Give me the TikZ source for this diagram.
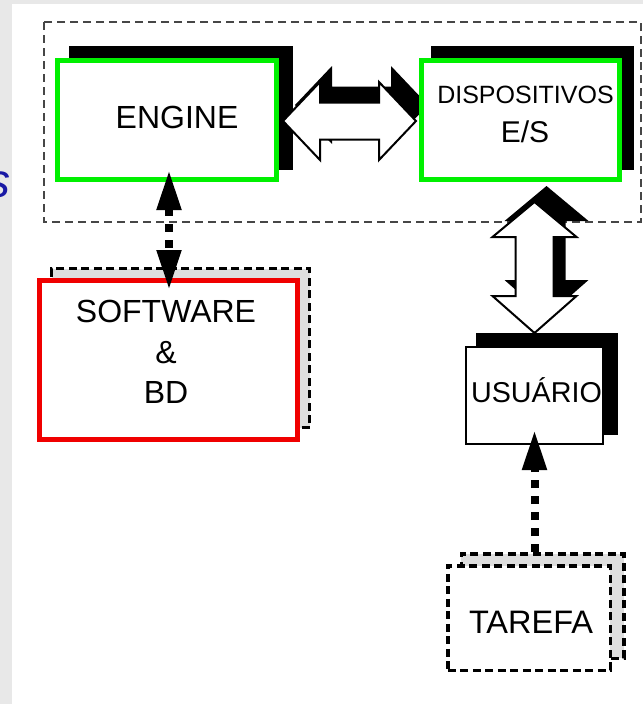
\documentclass[tikz,border=0pt]{standalone}
\usepackage{fontspec}
\setmainfont{Liberation Sans}
\usetikzlibrary{arrows.meta, calc, shadows}
\definecolor{pagegray}{RGB}{232,232,232}
\definecolor{boxgreen}{RGB}{0,240,0}
\definecolor{boxred}{RGB}{240,0,0}
\definecolor{shadegray}{RGB}{222,222,222}
\definecolor{framegray}{RGB}{70,70,70}
\definecolor{cutblue}{RGB}{25,25,165}
\pgfdeclarelayer{back}
\pgfdeclarelayer{mid}
\pgfsetlayers{back,mid,main}
\tikzset{bigtip/.tip={Triangle[length=40pt, width=23pt]}}

\begin{document}
\begin{tikzpicture}[
    x=1pt, y=-1pt,
    box/.style={draw, fill=white, inner sep=0pt},
    greenbox/.style={box, draw=boxgreen, line width=5pt, minimum height=119pt},
    solidshadow/.style={general shadow={fill=black, draw=black, line width=5pt, shadow xshift=#1, shadow yshift=12pt}},
    dashshadow/.style={general shadow={fill=shadegray, draw=black, line width=3.5pt, dash pattern=on 8pt off 4.5pt, shadow xshift=#1, shadow yshift=12pt}},
    txt/.style={inner sep=0pt, anchor=base, font=\fontsize{#1}{#1}\selectfont},
    framebox/.style={draw=framegray, line width=1.5pt, dash pattern=on 8pt off 5pt},
    hollow/.style={draw=black, fill=white, line width=2pt, line join=miter,
      general shadow={fill=black, shadow xshift=12pt, shadow yshift=16pt}},
    dasharrow/.style={black, line width=8pt, dash pattern=on 8pt off 8pt},
  ]
  \useasboundingbox (0,0) rectangle (643,704);

  \begin{pgfonlayer}{back}
    \fill[pagegray] (0,0) rectangle (643,704);
    \fill[white] (12,4) rectangle (643,704);
    \node[txt=48, anchor=base east, text=cutblue, font=\fontsize{48}{48}\selectfont\itshape] (cut-s) at (11,197) {s};
    \draw[framebox] (44,22) rectangle (641,222);
    \node[greenbox, minimum width=219pt, solidshadow=14pt] (engine) at (167,120) {};
  \end{pgfonlayer}

  \node[greenbox, minimum width=198pt, solidshadow=12pt] (dispo) at (520.5,120) {};
  \node[box, draw=boxred, line width=5pt, minimum width=258pt, minimum height=159pt, dashshadow=12pt] (software) at (168.5,360) {};
  \node[box, line width=2pt, minimum width=137pt, minimum height=97pt, solidshadow=12pt] (usuario) at (534.5,395.5) {};
  \node[box, line width=3.5pt, dash pattern=on 8pt off 4.5pt, minimum width=162.5pt, minimum height=104.5pt, dashshadow=13.5pt] (tarefa) at (529,618) {};

  % box texts
  \node[txt=32] (engine-t) at (177,128) {ENGINE};
  \node[txt=25] (dispo-t1) at (525.5,103) {DISPOSITIVOS};
  \node[txt=30] (dispo-t2) at (525,142) {E/S};
  \node[txt=32, anchor=center, align=center, font=\fontsize{32}{40.5}\selectfont] (software-t) at (166,352) {SOFTWARE\\\&\\BD};
  \node[txt=28.7] (usuario-t) at (536.5,402) {USUÁRIO};
  \node[txt=32.5] (tarefa-t) at (531,633) {TAREFA};

  % hollow arrows
  \coordinate (hl) at ($(engine.east)+(4,1)$);
  \coordinate (hr) at ($(dispo.west)+(-3,1)$);
  \coordinate (vt) at ($(dispo.south -| usuario.north)+(0,20)$);
  \coordinate (vb) at ($(usuario.north)+(0,-13)$);
  \begin{pgfonlayer}{mid}
    \draw[hollow] (hl) -- ($(hl)+(37,-39)$) -- ($(hl)+(37,-18.5)$) -- ($(hr)+(-37,-18.5)$)
      -- ($(hr)+(-37,-39)$) -- (hr) -- ($(hr)+(-37,39)$) -- ($(hr)+(-37,18.5)$)
      -- ($(hl)+(37,18.5)$) -- ($(hl)+(37,39)$) -- cycle;
    \draw[hollow] (vt) -- ($(vt)+(42,35)$) -- ($(vt)+(19,35)$) -- ($(vb)+(19,-37)$)
      -- ($(vb)+(42,-37)$) -- (vb) -- ($(vb)+(-42,-37)$) -- ($(vb)+(-19,-37)$)
      -- ($(vt)+(-19,35)$) -- ($(vt)+(-42,35)$) -- cycle;
  \end{pgfonlayer}

  % dashed arrows
  \draw[dasharrow, bigtip-bigtip, shorten <=-12pt, shorten >=-12pt]
    ([xshift=2pt]engine.south) -- ([xshift=2pt]engine.south |- software.north);
  \draw[dasharrow, -bigtip, shorten <=12pt, shorten >=-15pt]
    (tarefa.north -| usuario.south) -- (usuario.south);
\end{tikzpicture}
\end{document}
